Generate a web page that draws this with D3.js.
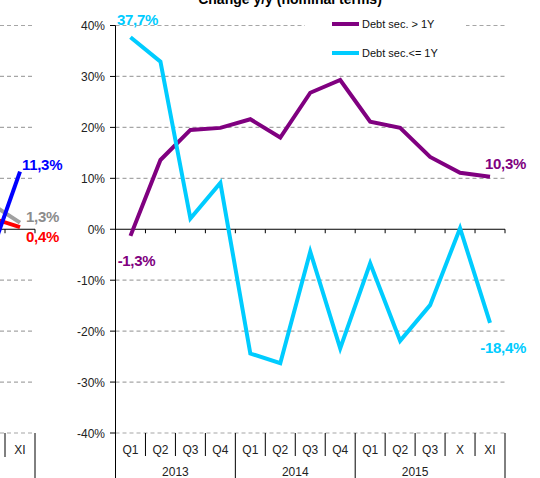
<!DOCTYPE html>
<html><head><meta charset="utf-8">
<script src="https://cdn.jsdelivr.net/npm/d3@7"></script>
<style>body{margin:0;background:#fff}svg{display:block;font-family:Arial,"Liberation Sans",sans-serif}</style>
</head><body>
<svg id="c" width="540" height="478"></svg>
<script>
// ---- data ----
const categories = ["Q1","Q2","Q3","Q4","Q1","Q2","Q3","Q4","Q1","Q2","Q3","X","XI"];
const years = ["2013","2014","2015"];
const yearSpans = [4,4,5];
const debtLong = [-1.3,13.6,19.5,19.9,21.6,18.0,26.8,29.3,21.1,19.9,14.2,11.1,10.3];
const debtShort = [37.7,32.9,2.1,9.1,-24.4,-26.3,-4.4,-23.4,-6.7,-21.9,-14.9,0.2,-18.4];
const yTicks = [-40,-30,-20,-10,0,10,20,30,40];
// fragment of the neighbouring chart (left edge)
const leftCats = ["X","XI"];
const leftBlue = [-5.4,11.3];
const leftGrey = [5.1,1.3];
const leftRed = [2.3,0.4];
const title = "Change y/y (nominal terms)";
const seriesNames = ["Debt sec. > 1Y","Debt sec.<= 1Y"];

const svg = d3.select("#c");
const fmt = v => (v < 0 ? "-" : "") + Math.abs(v).toFixed(1).replace(".", ",") + "%";

const y = d3.scaleLinear().domain([-40,40]).range([433,25.5]);
const x = d3.scaleBand().domain(d3.range(categories.length)).range([115.5,505]).padding(0);
const xl = d3.scaleBand().domain(leftCats).range([-25,35]).padding(0);
const bw = x.bandwidth();
const xc = i => x(i) + bw/2;

// gridlines
const gridG = svg.append("g");
gridG.selectAll("line.gm").data(yTicks.filter(t=>t!==0)).join("line")
  .attr("x1",115.5).attr("x2",505).attr("y1",d=>y(d)).attr("y2",d=>y(d))
  .attr("stroke","#a6a6a6").attr("stroke-width",1.2).attr("stroke-dasharray","4,3");
gridG.selectAll("line.gl").data(yTicks.filter(t=>t!==0)).join("line")
  .attr("x1",0).attr("x2",33).attr("y1",d=>y(d)).attr("y2",d=>y(d))
  .attr("stroke","#a6a6a6").attr("stroke-width",1.2).attr("stroke-dasharray","4,3");

// left fragment axis
svg.append("line").attr("x1",0).attr("x2",35).attr("y1",y(0)).attr("y2",y(0)).attr("stroke","#000");
[xl("XI"), xl("XI")+xl.bandwidth()].forEach((px,i)=>{
  svg.append("line").attr("x1",px).attr("x2",px).attr("y1",y(0)).attr("y2",y(0)+4).attr("stroke","#000");
  svg.append("line").attr("x1",px).attr("x2",px).attr("y1",433).attr("y2",i?478:457).attr("stroke","#000");
});
svg.append("text").attr("x",xl("XI")+xl.bandwidth()/2).attr("y",454).attr("text-anchor","middle")
  .attr("font-size",12).attr("fill","#222").text("XI");

// left fragment lines (clipped)
svg.append("clipPath").attr("id","lc").append("rect").attr("x",0).attr("y",0).attr("width",40).attr("height",478);
const ll = d3.line().x((d,i)=>xl(leftCats[i])+xl.bandwidth()/2).y(d=>y(d));
const lg = svg.append("g").attr("clip-path","url(#lc)");
lg.append("path").attr("d",ll(leftGrey)).attr("fill","none").attr("stroke","#a0a0a0").attr("stroke-width",4);
lg.append("path").attr("d",ll(leftRed)).attr("fill","none").attr("stroke","#ff0000").attr("stroke-width",4);
lg.append("path").attr("d",ll(leftBlue)).attr("fill","none").attr("stroke","#0000ff").attr("stroke-width",4);
const lx = xl("XI")+xl.bandwidth()/2;
const lbl = (sel,xp,yp,txt,col,anchor)=>sel.append("text").attr("x",xp).attr("y",yp).attr("text-anchor",anchor||"start")
  .attr("font-size",15).attr("font-weight","bold").attr("letter-spacing",-0.3).attr("fill",col).text(txt);
lbl(svg,lx+2,y(leftBlue[1])-2,fmt(leftBlue[1]),"#0000ff");
lbl(svg,lx+6,y(leftGrey[1])-1,fmt(leftGrey[1]),"#8c8c8c");
lbl(svg,lx+6,y(leftRed[1])+15,fmt(leftRed[1]),"#ff0000");

// main y axis
svg.append("line").attr("x1",115.5).attr("x2",115.5).attr("y1",y(40)).attr("y2",478).attr("stroke","#000");
svg.selectAll("line.yt").data(yTicks).join("line").attr("class","yt")
  .attr("x1",110).attr("x2",115.5).attr("y1",d=>y(d)).attr("y2",d=>y(d)).attr("stroke","#000");
svg.selectAll("text.yl").data(yTicks).join("text").attr("class","yl")
  .attr("x",105).attr("y",d=>y(d)+4.5).attr("text-anchor","end").attr("font-size",12).attr("fill","#222")
  .text(d=>d+"%");

// zero axis with ticks
svg.append("line").attr("x1",115.5).attr("x2",505).attr("y1",y(0)).attr("y2",y(0)).attr("stroke","#000");
svg.selectAll("line.zt").data(d3.range(1,categories.length+1)).join("line").attr("class","zt")
  .attr("x1",i=>x(i-1)+bw).attr("x2",i=>x(i-1)+bw).attr("y1",y(0)).attr("y2",y(0)+4).attr("stroke","#000");

// category separators and labels
const yearEnds = yearSpans.map((s,i)=>d3.sum(yearSpans.slice(0,i+1)));
svg.selectAll("line.cs").data(d3.range(1,categories.length+1)).join("line").attr("class","cs")
  .attr("x1",i=>x(i-1)+bw).attr("x2",i=>x(i-1)+bw).attr("y1",433)
  .attr("y2",i=>yearEnds.includes(i)?478:456).attr("stroke","#000");
svg.selectAll("text.cl").data(categories).join("text").attr("class","cl")
  .attr("x",(d,i)=>xc(i)).attr("y",454).attr("text-anchor","middle").attr("font-size",12).attr("fill","#222").text(d=>d);
svg.selectAll("text.yr").data(years).join("text").attr("class","yr")
  .attr("x",(d,i)=>x(i===0?0:yearEnds[i-1])+2*bw).attr("y",476).attr("text-anchor","middle")
  .attr("font-size",12).attr("fill","#222").text(d=>d);

// series lines
const line = d3.line().x((d,i)=>xc(i)).y(d=>y(d));
svg.append("path").attr("d",line(debtLong)).attr("fill","none").attr("stroke","#800080").attr("stroke-width",4).attr("stroke-linejoin","miter");
svg.append("path").attr("d",line(debtShort)).attr("fill","none").attr("stroke","#00ccff").attr("stroke-width",4).attr("stroke-linejoin","miter");

// data labels
const n = categories.length-1;
lbl(svg,xc(0)+7,y(debtShort[0])-12,fmt(debtShort[0]),"#00ccff","middle");
lbl(svg,xc(0)+6,y(debtLong[0])+30,fmt(debtLong[0]),"#800080","middle");
lbl(svg,526,y(debtLong[n])-8,fmt(debtLong[n]),"#800080","end");
lbl(svg,526,y(debtShort[n])+30,fmt(debtShort[n]),"#00ccff","end");

// legend
const lgd = svg.append("g");
lgd.append("rect").attr("x",305).attr("y",10).attr("width",161).attr("height",55).attr("fill","#fff");
[["#800080",24],["#00ccff",53]].forEach(([c,yy],i)=>{
  lgd.append("line").attr("x1",332).attr("x2",359).attr("y1",yy).attr("y2",yy).attr("stroke",c).attr("stroke-width",4);
  lgd.append("text").attr("x",362).attr("y",yy+4).attr("font-size",11).attr("fill","#111").text(seriesNames[i]);
});

// title (cut at top, as in the reference)
svg.append("text").attr("x",290).attr("y",4).attr("text-anchor","middle").attr("font-size",14)
  .attr("font-weight","bold").attr("fill","#000").text(title);
</script>
</body></html>
